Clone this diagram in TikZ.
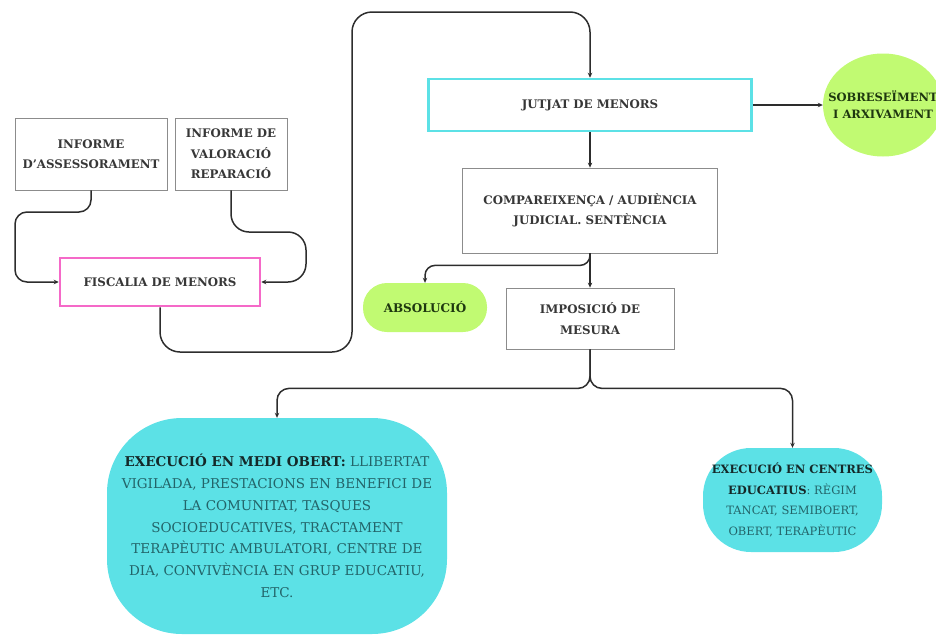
\documentclass[tikz,border=0pt]{standalone}
\usepackage{fontspec}
\setmainfont{DejaVu Serif}
\usepackage{tikz}
\usetikzlibrary{shapes.geometric}
\usetikzlibrary{arrows.meta, positioning}

\definecolor{boxgray}{RGB}{140,140,140}
\definecolor{textgray}{RGB}{55,55,55}
\definecolor{linegray}{RGB}{45,45,45}
\definecolor{fiscpink}{RGB}{245,105,200}
\definecolor{jutcyan}{RGB}{92,225,230}
\definecolor{limegreen}{RGB}{193,250,114}
\definecolor{tealtext}{RGB}{35,100,105}
\definecolor{darktext}{RGB}{20,40,40}
\definecolor{greentext}{RGB}{30,55,15}

\begin{document}
\begin{tikzpicture}[x=1pt, y=-1pt,
  box/.style={draw=boxgray, line width=0.8pt, fill=white, align=center, inner sep=0pt,
    text=textgray, font=\fontsize{11.8}{20.5}\selectfont\bfseries},
  pill/.style={fill=limegreen, align=center, inner sep=0pt, text=greentext,
    font=\fontsize{12}{17}\selectfont\bfseries},
  blob/.style={fill=jutcyan, align=center, inner sep=0pt, text=tealtext,
    font=\fontsize{13.5}{21.8}\selectfont},
  arr/.style={-{Stealth[length=5pt,width=4.5pt]}, draw=linegray, line width=1.5pt, rounded corners=12pt}
]
\useasboundingbox (0,0) rectangle (936,635);

% Draw report boxes
\node[box, minimum width=152pt, minimum height=72pt] (assess) at (91,154) {INFORME\\D'ASSESSORAMENT};
\node[box, minimum width=112pt, minimum height=72pt] (valor) at (231,154) {INFORME DE\\VALORACIÓ\\REPARACIÓ};

% Draw fiscalia box
\node[box, draw=fiscpink, line width=2.5pt, minimum width=200pt, minimum height=48pt] (fisc) at (160,282) {FISCALIA DE MENORS};

% Draw court boxes
\node[box, draw=jutcyan, line width=2.5pt, minimum width=323pt, minimum height=52pt] (jutjat) at (590,105) {JUTJAT DE MENORS};
\node[box, minimum width=255pt, minimum height=85pt] (compar) at (590,210.5) {COMPAREIXENÇA / AUDIÈNCIA\\JUDICIAL. SENTÈNCIA};
\node[box, minimum width=168pt, minimum height=61pt] (impos) at (590,318.5) {IMPOSICIÓ DE\\MESURA};

% Draw outcomes
\node[pill, ellipse, inner xsep=-20pt, minimum width=120pt, minimum height=103pt, font=\fontsize{11.5}{17}\selectfont\bfseries] (sobre) at (883,105) {SOBRESEÏMENT\\I ARXIVAMENT};
\node[pill, rounded corners=24pt, minimum width=124pt, minimum height=49pt] (absol) at (425,307.5) {ABSOLUCIÓ};

% Draw measures
\node[blob, rounded corners=75pt, minimum width=340pt, minimum height=216pt] (medi) at (277,526)
  {{\bfseries\color{darktext}EXECUCIÓ EN MEDI OBERT:} LLIBERTAT\\
   VIGILADA, PRESTACIONS EN BENEFICI DE\\
   LA COMUNITAT, TASQUES\\
   SOCIOEDUCATIVES, TRACTAMENT\\
   TERAPÈUTIC AMBULATORI, CENTRE DE\\
   DIA, CONVIVÈNCIA EN GRUP EDUCATIU,\\
   ETC.};
\node[blob, rounded corners=48pt, minimum width=179pt, minimum height=104pt, font=\fontsize{11.5}{20.7}\selectfont] (centres) at (792.5,500)
  {{\bfseries\color{darktext}EXECUCIÓ EN CENTRES}\\
   {\bfseries\color{darktext}EDUCATIUS}: RÈGIM\\
   TANCAT, SEMIBOERT,\\
   OBERT, TERAPÈUTIC};

% Draw arrows into fiscalia
\draw[arr] (assess.south) |- (15,212) |- (fisc.west);
\draw[arr, rounded corners=18pt] (valor.south) |- (306,232) |- (fisc.east);

% Draw arrow from fiscalia to jutjat
\coordinate (loop) at (352,12);
\draw[arr, rounded corners=20pt] (fisc.south) |- (352,352) -- (loop) -| (jutjat.north);

% Draw court arrows
\draw[arr] (jutjat.east) -- (sobre.west);
\draw[arr] (jutjat.south) -- (compar.north);
\draw[arr, rounded corners=10pt] (compar.south) -- ++(0,12) -| (absol.north);
\draw[arr] (compar.south) -- (impos.north);

% Draw measure arrows
\draw[arr] (impos.south) -- ++(0,39) -| (medi.north);
\draw[arr] (impos.south) -- ++(0,39) -| (centres.north);

\end{tikzpicture}
\end{document}
